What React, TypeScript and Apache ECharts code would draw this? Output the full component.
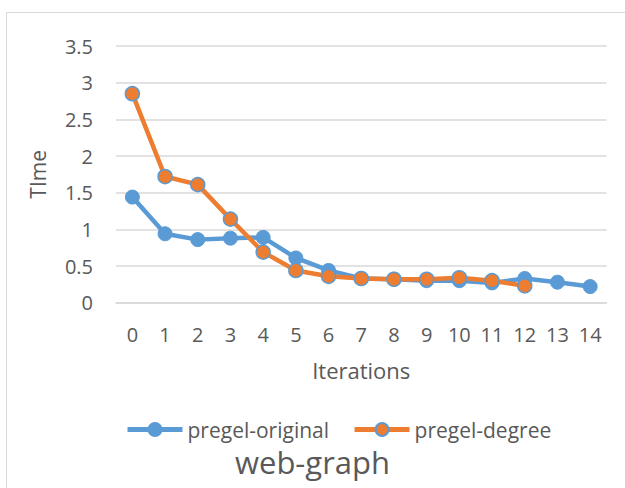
import React, { useEffect, useRef } from "react";
import * as echarts from "echarts";

const categories = ["0", "1", "2", "3", "4", "5", "6", "7", "8", "9", "10", "11", "12", "13", "14"];
const pregelOriginal = [1.44, 0.94, 0.86, 0.88, 0.89, 0.61, 0.44, 0.33, 0.32, 0.3, 0.3, 0.27, 0.33, 0.28, 0.22];
const pregelDegree = [2.85, 1.72, 1.61, 1.14, 0.69, 0.44, 0.36, 0.33, 0.32, 0.32, 0.34, 0.3, 0.23];
const seriesNames = ["pregel-original", "pregel-degree"];
const titleText = "web-graph";
const xName = "Iterations";
const yName = "TIme";

const BLUE = "#5B9BD5";
const ORANGE = "#ED7D31";
const TEXT = "#595959";
const GRID = "#D9D9D9";
const FONT = "Open Sans";

export default function App() {
  const ref = useRef<HTMLDivElement>(null);
  useEffect(() => {
    if (!ref.current) return;
    const chart = echarts.init(ref.current, undefined, { renderer: "svg" });
    chart.setOption({
      animation: false,
      backgroundColor: "#fff",
      textStyle: { fontFamily: FONT },
      graphic: [
        {
          type: "rect",
          shape: { x: 6.5, y: 12.5, width: 650, height: 520 },
          style: { fill: "none", stroke: GRID, lineWidth: 1 },
          silent: true,
        },
      ],
      title: {
        text: titleText,
        left: "center",
        top: 446,
        padding: 0,
        textStyle: { fontFamily: FONT, fontSize: 31, fontWeight: "normal", color: TEXT },
      },
      legend: {
        left: 125,
        top: 419,
        padding: 0,
        itemWidth: 55,
        itemHeight: 16,
        itemGap: 23,
        lineStyle: { width: 5 },
        textStyle: { fontFamily: FONT, fontSize: 21, color: TEXT },
        data: seriesNames,
      },
      grid: { left: 116, right: 18.5, top: 46, bottom: 185.3 },
      xAxis: {
        type: "category",
        data: categories,
        boundaryGap: true,
        name: xName,
        nameLocation: "middle",
        nameGap: 56,
        nameTextStyle: { fontFamily: FONT, fontSize: 22, color: TEXT },
        axisLine: { show: true, lineStyle: { color: GRID, width: 1.5 } },
        axisTick: { show: false },
        axisLabel: { fontFamily: FONT, fontSize: 20, color: TEXT, margin: 22, interval: 0 },
      },
      yAxis: {
        type: "value",
        min: 0,
        max: 3.5,
        interval: 0.5,
        name: yName,
        nameLocation: "middle",
        nameGap: 68,
        nameRotate: 90,
        nameTextStyle: { fontFamily: FONT, fontSize: 21, color: TEXT },
        axisLine: { show: false },
        axisTick: { show: false },
        axisLabel: { fontFamily: FONT, fontSize: 20, color: TEXT, margin: 23 },
        splitLine: { lineStyle: { color: GRID, width: 1.5 } },
      },
      series: [
        {
          name: seriesNames[0],
          type: "line",
          data: pregelOriginal,
          symbol: "circle",
          symbolSize: 14,
          lineStyle: { color: BLUE, width: 4.5 },
          itemStyle: { color: BLUE, borderColor: BLUE, borderWidth: 1 },
          z: 2,
        },
        {
          name: seriesNames[1],
          type: "line",
          data: pregelDegree,
          symbol: "circle",
          symbolSize: 14,
          lineStyle: { color: ORANGE, width: 4.5 },
          itemStyle: { color: ORANGE, borderColor: BLUE, borderWidth: 1.5 },
          z: 3,
        },
      ],
    });
    return () => chart.dispose();
  }, []);
  return (
    <div
      ref={ref}
      style={{ position: "absolute", left: 0, top: 0, width: 625, height: 488 }}
    />
  );
}
